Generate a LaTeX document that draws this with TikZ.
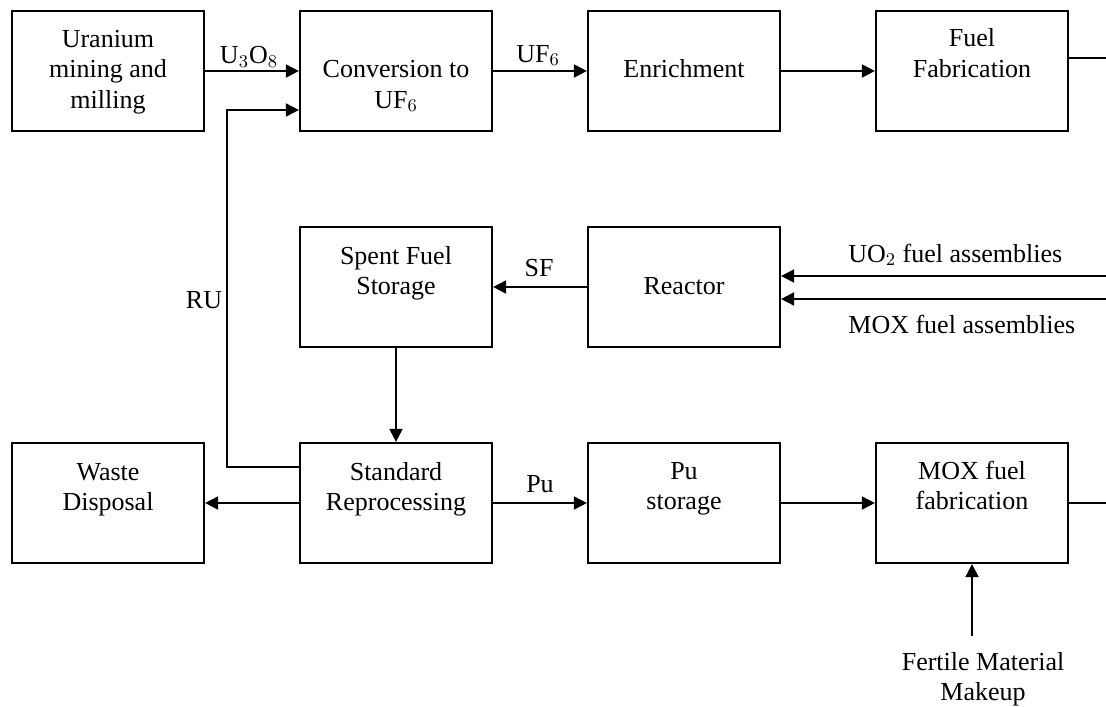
\documentclass[tikz,border=0pt]{standalone}
\usepackage{fontspec}
\setmainfont{Liberation Serif}
\usetikzlibrary{arrows.meta}
\newcommand{\mlines}[1]{\begin{tabular}[t]{@{}c@{}}#1\end{tabular}}
\begin{document}
\begin{tikzpicture}[x=0.5pt,y=-0.5pt,
  every node/.style={font=\fontsize{13}{15}\selectfont},
  box/.style={draw, line width=1.1pt, minimum width=96pt, minimum height=60pt, inner sep=0pt},
  btxt/.style={anchor=base, inner sep=0pt},
  lbl/.style={anchor=base, inner sep=0pt},
  conn/.style={line width=1pt},
  arr/.style={conn, -{Triangle[length=6.5pt,width=6.5pt]}}]
\useasboundingbox (0,0) rectangle (1106,706);
% boxes
\node[box] (uran) at (108,71) {};
\node[box] (conv) at (396,71) {};
\node[box] (enr) at (684,71) {};
\node[box] (ff) at (972,71) {};
\node[box] (sfs) at (396,287) {};
\node[box] (reac) at (684,287) {};
\node[box] (waste) at (108,503) {};
\node[box] (std) at (396,503) {};
\node[box] (pus) at (684,503) {};
\node[box] (mox) at (972,503) {};
% box texts
\node[btxt] (urant) at (108,48) {\mlines{Uranium\\mining and\\milling}};
\node[btxt] (convt) at (396,78) {\mlines{Conversion to\\UF$_6$}};
\node[btxt] (enrt) at (684,78) {Enrichment};
\node[btxt] (fft) at (972,47) {\mlines{Fuel\\Fabrication}};
\node[btxt] (sfst) at (396,264) {\mlines{Spent Fuel\\Storage}};
\node[btxt] (react) at (684,294) {Reactor};
\node[btxt] (wastet) at (108,480) {\mlines{Waste\\Disposal}};
\node[btxt] (stdt) at (396,480) {\mlines{Standard\\Reprocessing}};
\node[btxt] (pust) at (684,479) {\mlines{Pu\\storage}};
\node[btxt] (moxt) at (972,479) {\mlines{MOX fuel\\fabrication}};
\node[btxt] (fert) at (983,670) {\mlines{Fertile Material\\Makeup}};
% free ends
\coordinate (ffout) at (1106,58);
\coordinate (uoin) at (1106,276);
\coordinate (moxin) at (1106,299);
\coordinate (moxout) at (1106,503);
\coordinate (fertop) at (972,636);
% connectors
\draw[arr] (uran.east) -- (conv.west);
\node[lbl] (u3o8) at (249,64) {U$_3$O$_8$};
\draw[arr] (conv.east) -- (enr.west);
\node[lbl] (uf6) at (538,62) {UF$_6$};
\draw[arr] (enr.east) -- (ff.west);
\draw[conn] ([yshift=6.5pt]ff.east) -- (ffout);
\draw[arr] (uoin) -- (reac.east |- uoin);
\draw[arr] (moxin) -- (reac.east |- moxin);
\node[lbl, anchor=base west] (uol) at (848,262) {UO$_2$ fuel assemblies};
\node[lbl, anchor=base west] (moxl) at (848,333) {MOX fuel assemblies};
\draw[arr] (reac.west) -- (sfs.east);
\node[lbl] (sfl) at (539,276) {SF};
\draw[arr] (sfs.south) -- (std.north);
\draw[arr] ([yshift=18pt]std.west) -- ++(-72,0) |- ([yshift=-19.5pt]conv.west);
\node[lbl] (rul) at (204,308) {RU};
\draw[arr] (std.west) -- (waste.east);
\draw[arr] (std.east) -- (pus.west);
\node[lbl] (pul) at (540,492) {Pu};
\draw[arr] (pus.east) -- (mox.west);
\draw[conn] (mox.east) -- (moxout);
\draw[arr] (fertop) -- (mox.south);
\end{tikzpicture}
\end{document}
